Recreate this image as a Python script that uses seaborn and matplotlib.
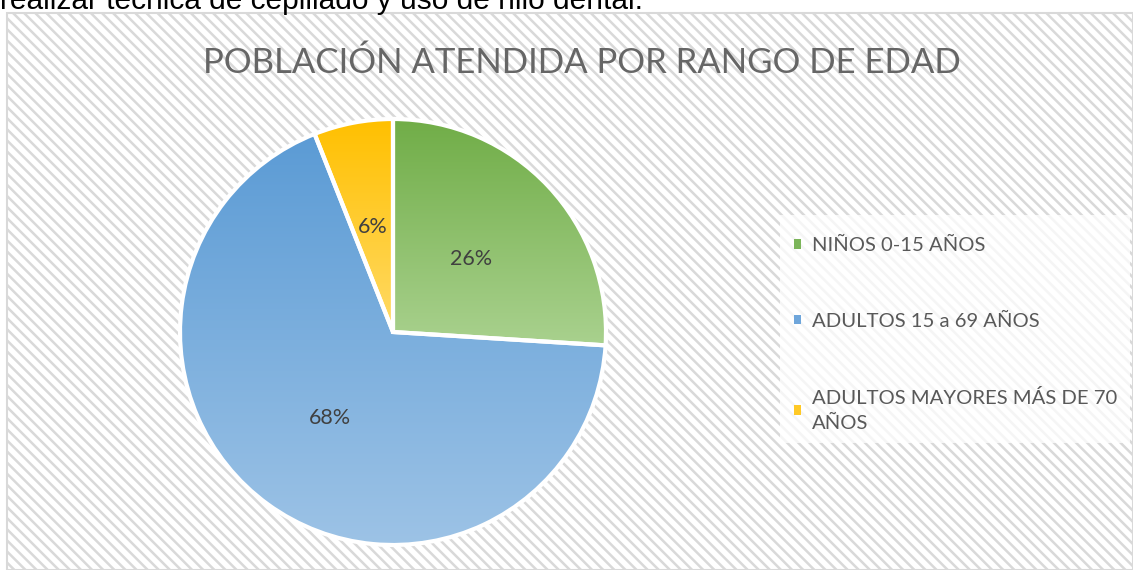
import numpy as np
import matplotlib
matplotlib.use("Agg")
import matplotlib.pyplot as plt
import seaborn as sns
from matplotlib.patches import Rectangle, Patch
from matplotlib.colors import LinearSegmentedColormap

# ---- data ----
categories = ["NIÑOS 0-15 AÑOS", "ADULTOS 15 a 69 AÑOS", "ADULTOS MAYORES MÁS DE 70\nAÑOS"]
values = [26, 68, 6]
title = "POBLACIÓN ATENDIDA POR RANGO DE EDAD"
top_text = "realizar técnica de cepillado y uso de hilo dental."

colors_top = ["#70AD47", "#5B9BD5", "#FFC000"]
colors_bottom = ["#A9D18E", "#9DC3E6", "#FFDA66"]
legend_colors = ["#7CB55A", "#6FA6DB", "#FFC926"]

sns.set_theme(style="white")
plt.rcParams["font.family"] = ["Lato", "DejaVu Sans"]
plt.rcParams["hatch.linewidth"] = 1.8

W, H = 1133, 570
fig = plt.figure(figsize=(W / 100, H / 100), dpi=100)
fig.patch.set_facecolor("white")

top = 12.5
# hatched chart background
bg = Rectangle((7 / W, 0), 1 - 7 / W, 1 - top / H, transform=fig.transFigure,
               facecolor="white", edgecolor="#D9D9D9", hatch="\\\\\\", linewidth=0, zorder=-3)
fig.patches.append(bg)
border = Rectangle((7 / W, 0), 1 - 7 / W, 1 - top / H, transform=fig.transFigure,
                   facecolor="none", edgecolor="#D9D9D9", linewidth=1.5, zorder=-1)
fig.patches.append(border)

# white legend box
lbox = Rectangle((780 / W, 1 - 443 / H), 350 / W, 228 / H, transform=fig.transFigure,
                 facecolor="white", edgecolor="none", alpha=0.75, zorder=-2)
fig.patches.append(lbox)

# text above chart (cut off in the reference)
fig.text(0 / W, 1 - 9 / H, top_text, ha="left", va="baseline", fontsize=21.5,
         family=["Liberation Sans", "DejaVu Sans"], color="#000000", zorder=5)

# title
fig.text(582 / W, 1 - 63 / H, title, ha="center", va="center", fontsize=25,
         color="#666666")

# pie axes
cx, cy, r = 393, 332, 213
ax = fig.add_axes([(cx - r) / W, (H - cy - r) / H, 2 * r / W, 2 * r / H])
ax.set_facecolor("none")
wedges, texts, autotexts = ax.pie(
    values, colors=colors_top, startangle=90, counterclock=False,
    autopct="%1.0f%%", pctdistance=0.5,
    wedgeprops=dict(edgecolor="white", linewidth=3),
    textprops=dict(fontsize=15.5, color="#404040"))

for w, ct, cb in zip(wedges, colors_top, colors_bottom):
    verts = w.get_path().vertices
    x0, x1 = verts[:, 0].min(), verts[:, 0].max()
    y0, y1 = verts[:, 1].min(), verts[:, 1].max()
    cmap = LinearSegmentedColormap.from_list("g", [cb, ct])
    grad = np.linspace(1, 0, 256).reshape(-1, 1)
    im = ax.imshow(grad, cmap=cmap, extent=[x0, x1, y0, y1], aspect="auto",
                   origin="upper", zorder=0.5, vmin=0, vmax=1)
    im.set_clip_path(w)
    w.set_facecolor("none")
    w.set_zorder(1)
for t in autotexts:
    t.set_zorder(3)

ax.set_xlim(-1, 1)
ax.set_ylim(-1, 1)
ax.set_aspect("equal")
ax.axis("off")

# legend
handles = [Patch(facecolor=c, edgecolor="none") for c in legend_colors]
leg = fig.legend(handles, categories, loc="upper left",
                 bbox_to_anchor=(794 / W, 1 - 237 / H),
                 frameon=False, fontsize=14.6, labelspacing=2.9,
                 handlelength=0.35, handleheight=0.35, handletextpad=0.55,
                 borderpad=0, borderaxespad=0, labelcolor="#595959")
for t in leg.get_texts():
    t.set_linespacing(1.6)

fig.savefig("out.png", dpi=100)
